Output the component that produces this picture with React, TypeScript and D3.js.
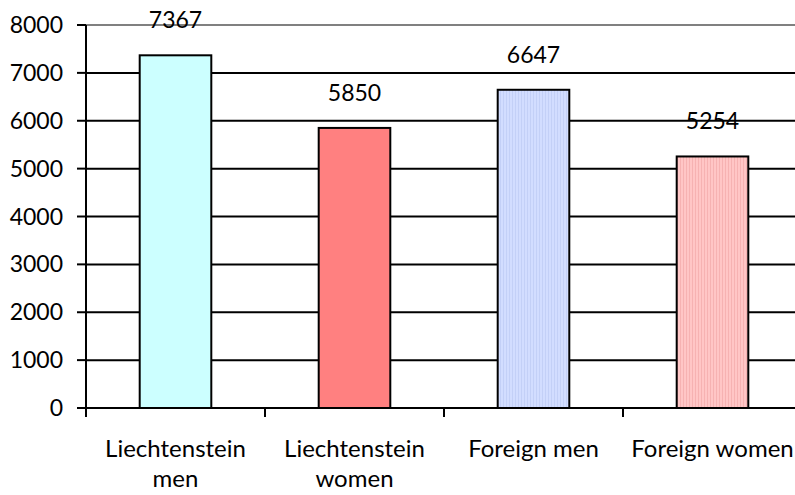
import React, { useEffect, useRef } from 'react';
import * as d3 from 'd3';

// chart data
const categories = ['Liechtenstein men', 'Liechtenstein women', 'Foreign men', 'Foreign women'];
const labelLines = [['Liechtenstein', 'men'], ['Liechtenstein', 'women'], ['Foreign men'], ['Foreign women']];
const values = [7367, 5850, 6647, 5254];
const yTicks = [0, 1000, 2000, 3000, 4000, 5000, 6000, 7000, 8000];

const W = 795;
const H = 495;
const FONT = 'Lato, "Open Sans", sans-serif';

const App = () => {
  const ref = useRef<SVGSVGElement>(null);

  useEffect(() => {
    const svg = d3.select(ref.current);
    svg.selectAll('*').remove();

    const margin = { top: 25, right: -7, bottom: 87, left: 86 };
    const width = W - margin.left - margin.right;
    const height = H - margin.top - margin.bottom;

    // fills, two of them striped
    const defs = svg.append('defs');
    const stripes = [
      { id: 'stripeBlue', a: '#d2ddff', b: '#c3d0f7' },
      { id: 'stripePink', a: '#ffc6c6', b: '#f6b2b2' },
    ];
    stripes.forEach((s) => {
      const p = defs
        .append('pattern')
        .attr('id', s.id)
        .attr('patternUnits', 'userSpaceOnUse')
        .attr('width', 3)
        .attr('height', 3);
      p.append('rect').attr('width', 3).attr('height', 3).attr('fill', s.a);
      p.append('rect').attr('width', 1).attr('height', 3).attr('fill', s.b);
    });
    const fills = ['#ccffff', '#ff8080', 'url(#stripeBlue)', 'url(#stripePink)'];

    const g = svg.append('g').attr('transform', `translate(${margin.left},${margin.top})`);

    const x = d3.scaleBand().domain(categories).range([0, width]).paddingInner(0.6).paddingOuter(0.3);
    const y = d3.scaleLinear().domain([0, 8000]).range([height, 0]);
    const step = x.step();

    // gridlines
    g.selectAll('.grid')
      .data(yTicks.filter((d) => d > 0))
      .enter()
      .append('line')
      .attr('x1', 0)
      .attr('x2', width)
      .attr('y1', (d) => y(d))
      .attr('y2', (d) => y(d))
      .attr('stroke', (d) => (d === 8000 ? '#808080' : '#000'))
      .attr('stroke-width', 2);

    // bars
    g.selectAll('.bar')
      .data(values)
      .enter()
      .append('rect')
      .attr('x', (d, i) => x(categories[i])!)
      .attr('y', (d) => y(d))
      .attr('width', x.bandwidth())
      .attr('height', (d) => height - y(d))
      .attr('fill', (d, i) => fills[i])
      .attr('stroke', '#000')
      .attr('stroke-width', 2);

    // value labels
    g.selectAll('.val')
      .data(values)
      .enter()
      .append('text')
      .attr('x', (d, i) => x(categories[i])! + x.bandwidth() / 2)
      .attr('y', (d) => y(d) - 27)
      .attr('text-anchor', 'middle')
      .style('font-family', FONT)
      .style('font-size', '23px')
      .style('fill', '#000')
      .text((d) => d);

    // y axis
    g.append('line')
      .attr('x1', 0)
      .attr('x2', 0)
      .attr('y1', y(8000))
      .attr('y2', height + 9)
      .attr('stroke', '#000')
      .attr('stroke-width', 2);
    g.selectAll('.ytick')
      .data(yTicks)
      .enter()
      .append('line')
      .attr('x1', -9)
      .attr('x2', 0)
      .attr('y1', (d) => y(d))
      .attr('y2', (d) => y(d))
      .attr('stroke', '#000')
      .attr('stroke-width', 2);
    g.selectAll('.ylab')
      .data(yTicks)
      .enter()
      .append('text')
      .attr('x', -23)
      .attr('y', (d) => y(d))
      .attr('dy', '0.35em')
      .attr('text-anchor', 'end')
      .style('font-family', FONT)
      .style('font-size', '23px')
      .style('fill', '#000')
      .text((d) => d);

    // x axis
    g.append('line')
      .attr('x1', 0)
      .attr('x2', width)
      .attr('y1', height)
      .attr('y2', height)
      .attr('stroke', '#000')
      .attr('stroke-width', 2);
    g.selectAll('.xtick')
      .data(d3.range(categories.length + 1))
      .enter()
      .append('line')
      .attr('x1', (d) => d * step)
      .attr('x2', (d) => d * step)
      .attr('y1', height)
      .attr('y2', height + 9)
      .attr('stroke', '#000')
      .attr('stroke-width', 2);

    const xl = g
      .selectAll('.xlab')
      .data(categories)
      .enter()
      .append('text')
      .attr('text-anchor', 'middle')
      .style('font-family', FONT)
      .style('font-size', '24px')
      .style('fill', '#000');
    xl.each(function (d, i) {
      const t = d3.select(this);
      labelLines[i].forEach((line, j) => {
        t.append('tspan')
          .attr('x', x(d)! + x.bandwidth() / 2)
          .attr('y', height + 49 + j * 30)
          .text(line);
      });
    });
  }, []);

  return (
    <svg
      ref={ref}
      width={W}
      height={H}
      style={{ position: 'absolute', left: 0, top: 0, background: '#fff', overflow: 'hidden' }}
    />
  );
};

export default App;
